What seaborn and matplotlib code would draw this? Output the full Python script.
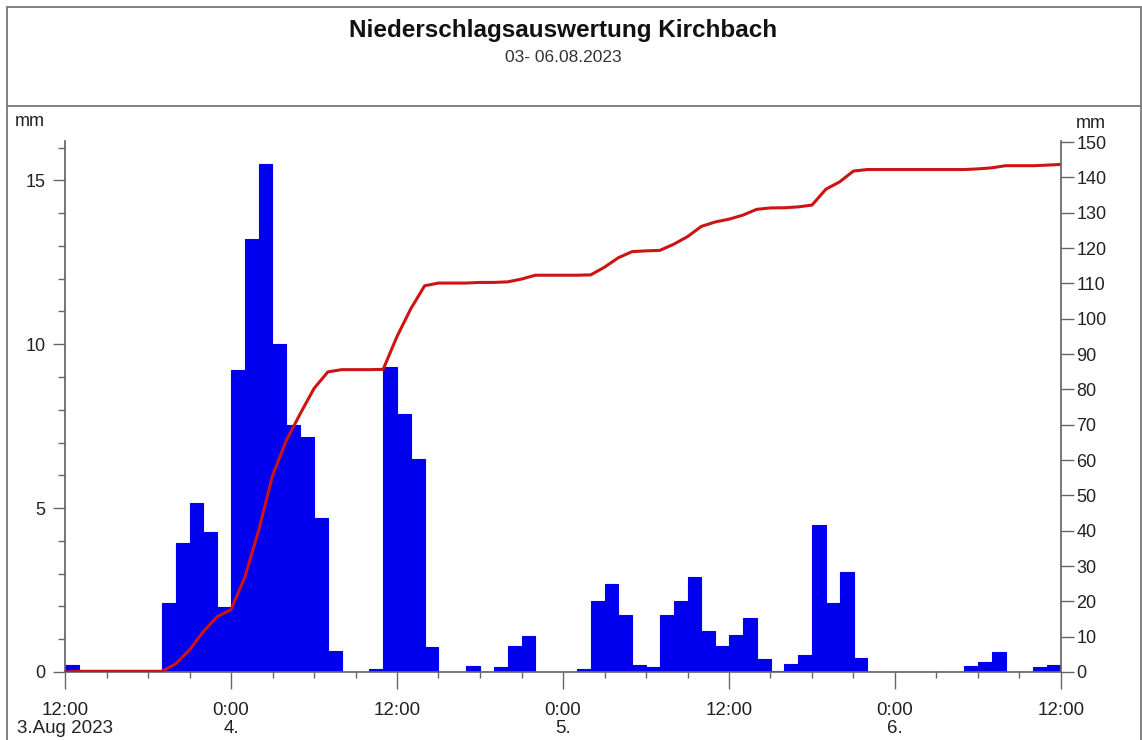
import numpy as np
import pandas as pd
import matplotlib.pyplot as plt
from matplotlib.lines import Line2D
from matplotlib.ticker import MultipleLocator
import seaborn as sns

# --- data: hourly rainfall from 3 Aug 2023 12:00 to 6 Aug 2023 12:00 ---
rain_hourly = [
    0.2, 0, 0, 0, 0, 0, 0, 2.1, 3.95, 5.15, 4.27, 1.98,          # 3. 12-24
    9.2, 13.2, 15.5, 10.0, 7.53, 7.16, 4.7, 0.64, 0, 0, 0.08, 9.3,  # 4. 0-12
    7.87, 6.5, 0.76, 0, 0, 0.18, 0, 0.16, 0.79, 1.09, 0, 0,       # 4. 12-24
    0, 0.09, 2.18, 2.68, 1.73, 0.21, 0.14, 1.73, 2.16, 2.9, 1.25, 0.79,  # 5. 0-12
    1.14, 1.64, 0.41, 0.04, 0.25, 0.51, 4.49, 2.09, 3.06, 0.42, 0, 0,  # 5. 12-24
    0, 0, 0, 0, 0, 0.19, 0.3, 0.6, 0, 0, 0.16, 0.21,              # 6. 0-12
]
tick_hours = [0, 12, 24, 36, 48, 60, 72]
tick_labels = ["12:00\n3.Aug 2023", "0:00\n4.", "12:00", "0:00\n5.",
               "12:00", "0:00\n6.", "12:00"]

n = len(rain_hourly)
bars = pd.DataFrame({"hour": np.arange(n) + 0.5, "mm": rain_hourly})
# cumulative sum (right axis)
total = pd.DataFrame({"hour": np.arange(n + 1),
                      "sum": np.concatenate([[0], np.cumsum(rain_hourly)])})

sns.set_theme(style="white")
plt.rcParams["font.family"] = ["Liberation Sans", "DejaVu Sans"]

W, H = 1142, 740
fig = plt.figure(figsize=(W / 100, H / 100), dpi=100)
ax = fig.add_axes([65 / W, 68 / H, 996 / W, 531 / H])

sns.barplot(data=bars, x="hour", y="mm", native_scale=True, width=1,
            color="#0000ee", saturation=1, errorbar=None,
            edgecolor="#0000ee", linewidth=0.8, ax=ax)

ax2 = ax.twinx()
sns.lineplot(data=total, x="hour", y="sum", color="#cc1414", linewidth=2.2, ax=ax2)

# axes ranges
ax.set_xlim(0, 72)
ax.set_ylim(0, 16.2)
ax2.set_ylim(0, 150.3)
for a in (ax, ax2):
    a.set_xlabel("")
    a.set_ylabel("")
    a.grid(False)

spine_col = "#666666"
txt_col = "#222222"
fs = 13
for s in ["top", "right"]:
    ax.spines[s].set_visible(False)
for s in ["top", "left", "bottom"]:
    ax2.spines[s].set_visible(False)
for s in ["left", "bottom"]:
    ax.spines[s].set_color(spine_col)
ax2.spines["right"].set_color(spine_col)

# x axis
ax.set_xticks(tick_hours)
ax.set_xticklabels(tick_labels)
for lab in ax.get_xticklabels():
    lab.set_linespacing(1.05)
ax.xaxis.set_minor_locator(MultipleLocator(3))
ax.tick_params(axis="x", which="major", direction="out", length=12, width=1,
               color=spine_col, labelsize=13.5, labelcolor=txt_col, pad=9.5, bottom=True)
ax.tick_params(axis="x", which="minor", direction="out", length=4, width=1,
               color=spine_col, bottom=True)

# left y axis
ax.yaxis.set_major_locator(MultipleLocator(5))
ax.yaxis.set_minor_locator(MultipleLocator(1))
ax.tick_params(axis="y", which="major", direction="out", length=9, width=1,
               color=spine_col, labelsize=fs, labelcolor=txt_col, pad=5, left=True)
ax.tick_params(axis="y", which="minor", direction="out", length=5, width=1,
               color=spine_col, left=True)

# right y axis
ax2.yaxis.set_major_locator(MultipleLocator(10))
ax2.tick_params(axis="y", which="major", direction="out", length=9, width=1,
                color=spine_col, labelsize=fs, labelcolor=txt_col, pad=2, right=True)

# unit labels
fig.text(30 / W, 1 - 122 / H, "mm", fontsize=fs, color=txt_col, ha="center", va="center")
fig.text(1091 / W, 1 - 123 / H, "mm", fontsize=fs, color=txt_col, ha="center", va="center")

# header
fig.text(563 / W, 1 - 31 / H, "Niederschlagsauswertung Kirchbach", fontsize=17.5,
         fontweight="bold", color="#111111", ha="center", va="center")
fig.text(563 / W, 1 - 58 / H, "03- 06.08.2023", fontsize=12.5, color="#333333",
         ha="center", va="center")

# frame around the whole picture
frame_col = "#777777"
for (x0, y0, x1, y1) in [(7, 7, 7, 740), (7, 7, 1141, 7), (1141, 7, 1141, 740), (7, 106, 1141, 106)]:
    fig.add_artist(Line2D([x0 / W, x1 / W], [1 - y0 / H, 1 - y1 / H],
                          transform=fig.transFigure, color=frame_col, linewidth=1.3))

fig.savefig("out.png", dpi=100)
